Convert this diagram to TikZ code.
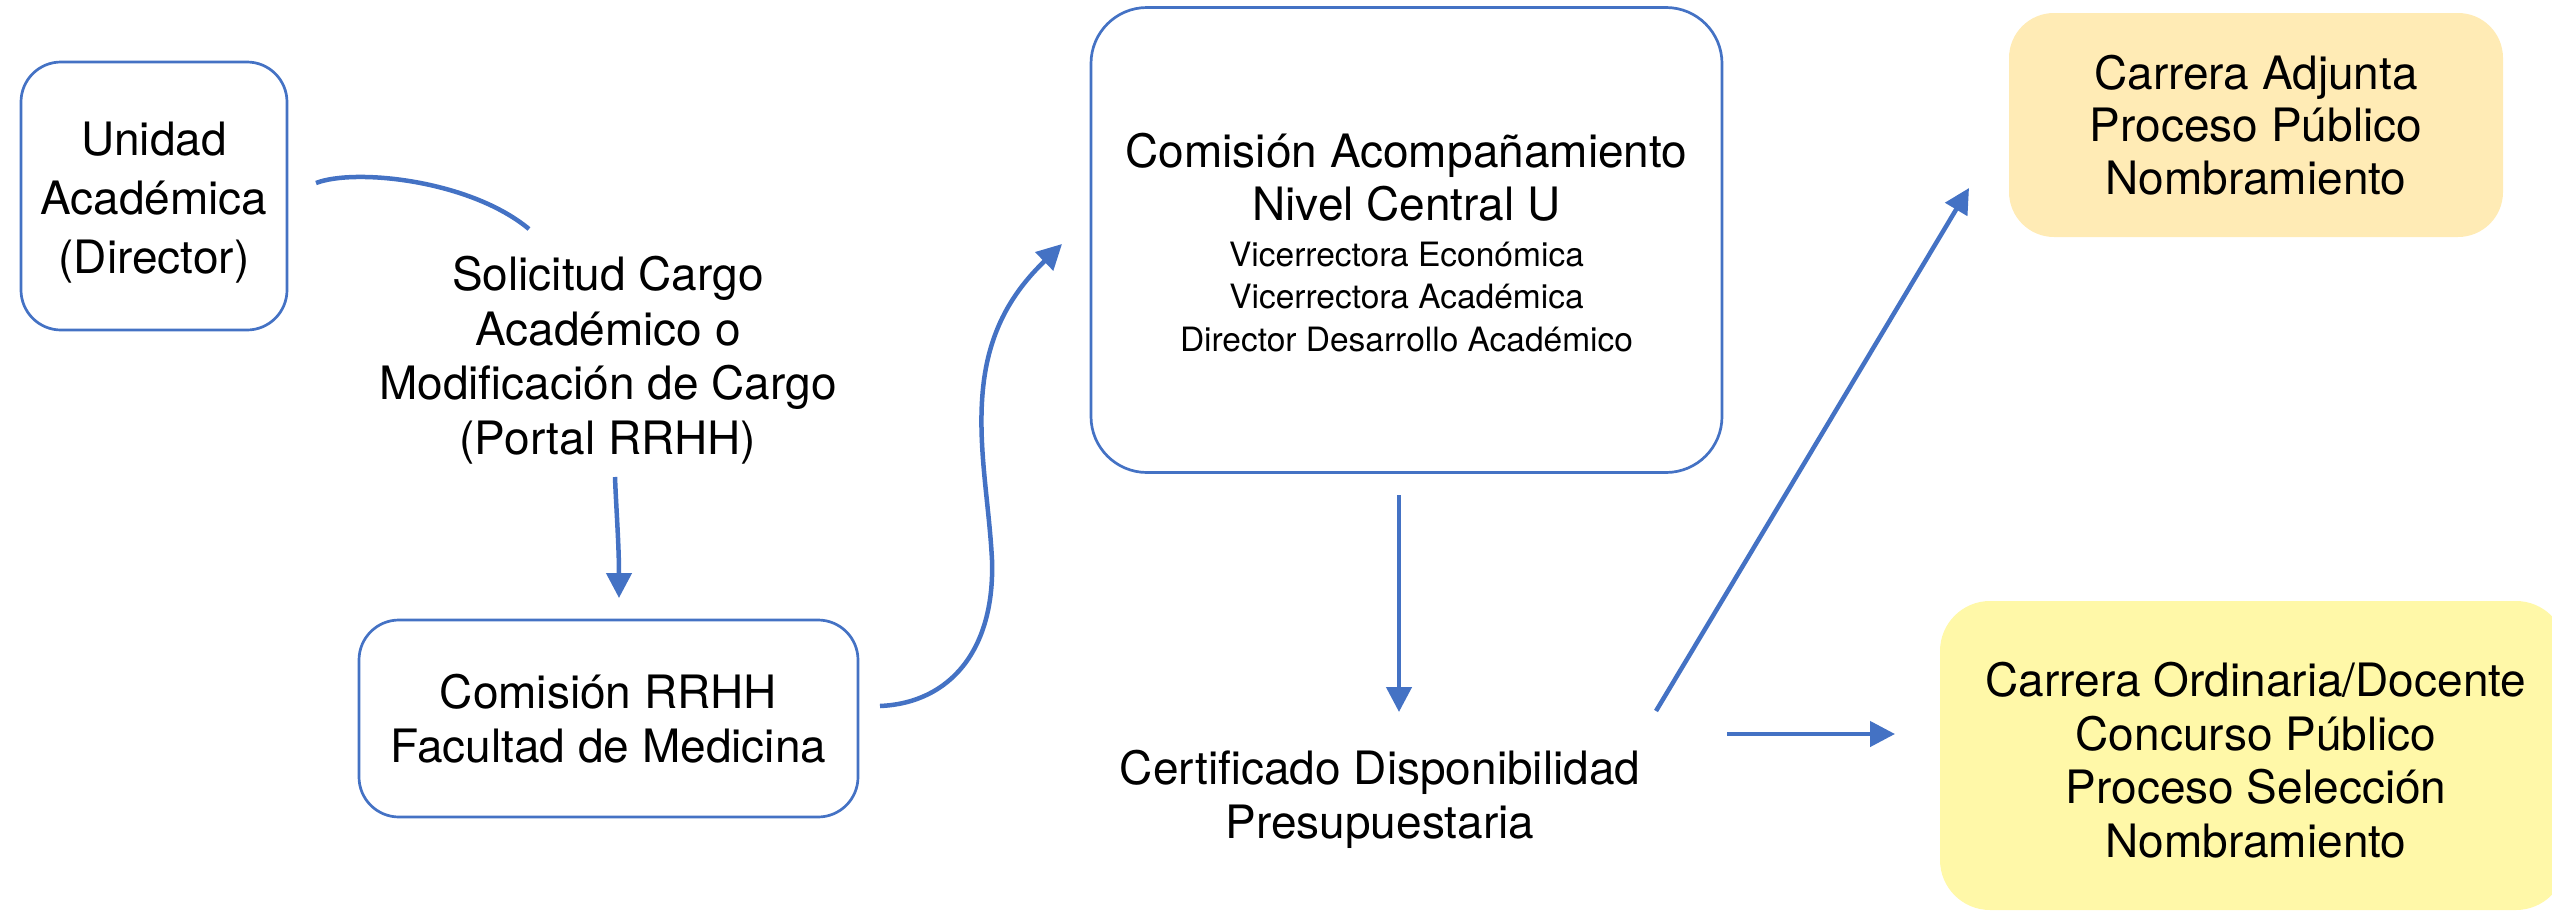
\documentclass[tikz,border=0pt]{standalone}
\usepackage{fontspec}
\setmainfont{TeX Gyre Heros}
\usetikzlibrary{arrows.meta}
\definecolor{lineblue}{HTML}{4472C4}
\definecolor{adjfill}{HTML}{FFEBB5}
\definecolor{ordfill}{HTML}{FFF8A8}
\begin{document}
\begin{tikzpicture}[x=1pt,y=-1pt,
  box/.style={draw=lineblue, line width=2.7pt, rounded corners=40pt, align=center, inner sep=0pt},
  fillbox/.style={rounded corners=45pt, align=center, inner sep=0pt},
  label/.style={align=center, inner sep=0pt},
  conn/.style={draw=lineblue, line width=4.5pt},
  arr/.style={conn, -{Triangle[length=25pt,width=25pt]}},
  big/.style={font=\fontsize{46}{54}\selectfont},
  small/.style={font=\fontsize{33.5}{42.5}\selectfont}]
\useasboundingbox (0,0) rectangle (2552,913);
\clip (0,0) rectangle (2552,913);

% boxes
\node[box, minimum width=266pt, minimum height=268pt] (unidad) at (154,196) {};
\node[label, font=\fontsize{46}{59}\selectfont] (unidadtext) at (154,203)
  {Unidad\\Académica\\(Director)};
\node[box, big, minimum width=499pt, minimum height=197pt] (rrhh) at (608.5,718.5)
  {Comisión RRHH\\Facultad de Medicina};
\node[box, rounded corners=56pt, minimum width=631pt, minimum height=465pt] (comision) at (1406.5,240) {};
\node[label, font=\fontsize{46}{53}\selectfont] (comtitle) at (1406.5,177.5)
  {Comisión Acompañamiento\\Nivel Central U};
\node[label, small] (commembers) at (1406.5,297)
  {Vicerrectora Económica\\Vicerrectora Académica\\Director Desarrollo Académico};
\node[fillbox, fill=adjfill, minimum width=494pt, minimum height=224pt, font=\fontsize{46}{52.5}\selectfont] (adjunta) at (2256,125)
  {Carrera Adjunta\\Proceso Público\\Nombramiento};
\node[fillbox, fill=ordfill, rounded corners=50pt, minimum width=626pt, minimum height=309pt] (ordinaria) at (2253,755.5) {};
\node[label, font=\fontsize{46}{53.5}\selectfont] (ordtext) at (2256,760)
  {Carrera Ordinaria/Docente\\Concurso Público\\Proceso Selección\\Nombramiento};

% free labels
\node[label, font=\fontsize{46}{54.5}\selectfont] (solicitud) at (608,360)
  {Solicitud Cargo\\Académico o\\Modificación de Cargo\\(Portal RRHH)};
\node[label, font=\fontsize{46}{54}\selectfont] (cert) at (1380,799)
  {Certificado Disponibilidad\\Presupuestaria};

% connector end points
\coordinate (c1s) at (316,183);
\coordinate (c1e) at (529,229);
\coordinate (c2s) at (615,477);
\coordinate (c2e) at (619,598);
\coordinate (c3s) at (880,706);
\coordinate (c3e) at (1062,244);
\coordinate (c4s) at (1399,495);
\coordinate (c4e) at (1399,712);
\coordinate (c5s) at (1656,711);
\coordinate (c5e) at (1969,188);
\coordinate (c6s) at (1727,734);
\coordinate (c6e) at (1895,734);

% connectors
\draw[conn] (c1s) .. controls (355,168) and (470,180) .. (c1e);
\draw[arr] (c2s) .. controls (616,505) and (619,545) .. (c2e);
\draw[arr] (c3s) .. controls (950,703) and (995,650) .. (992,560)
  .. controls (989,500) and (976,440) .. (984,380)
  .. controls (992,320) and (1020,285) .. (c3e);
\draw[arr] (c4s) -- (c4e);
\draw[arr] (c5s) -- (c5e);
\draw[arr] (c6s) -- (c6e);
\end{tikzpicture}
\end{document}
